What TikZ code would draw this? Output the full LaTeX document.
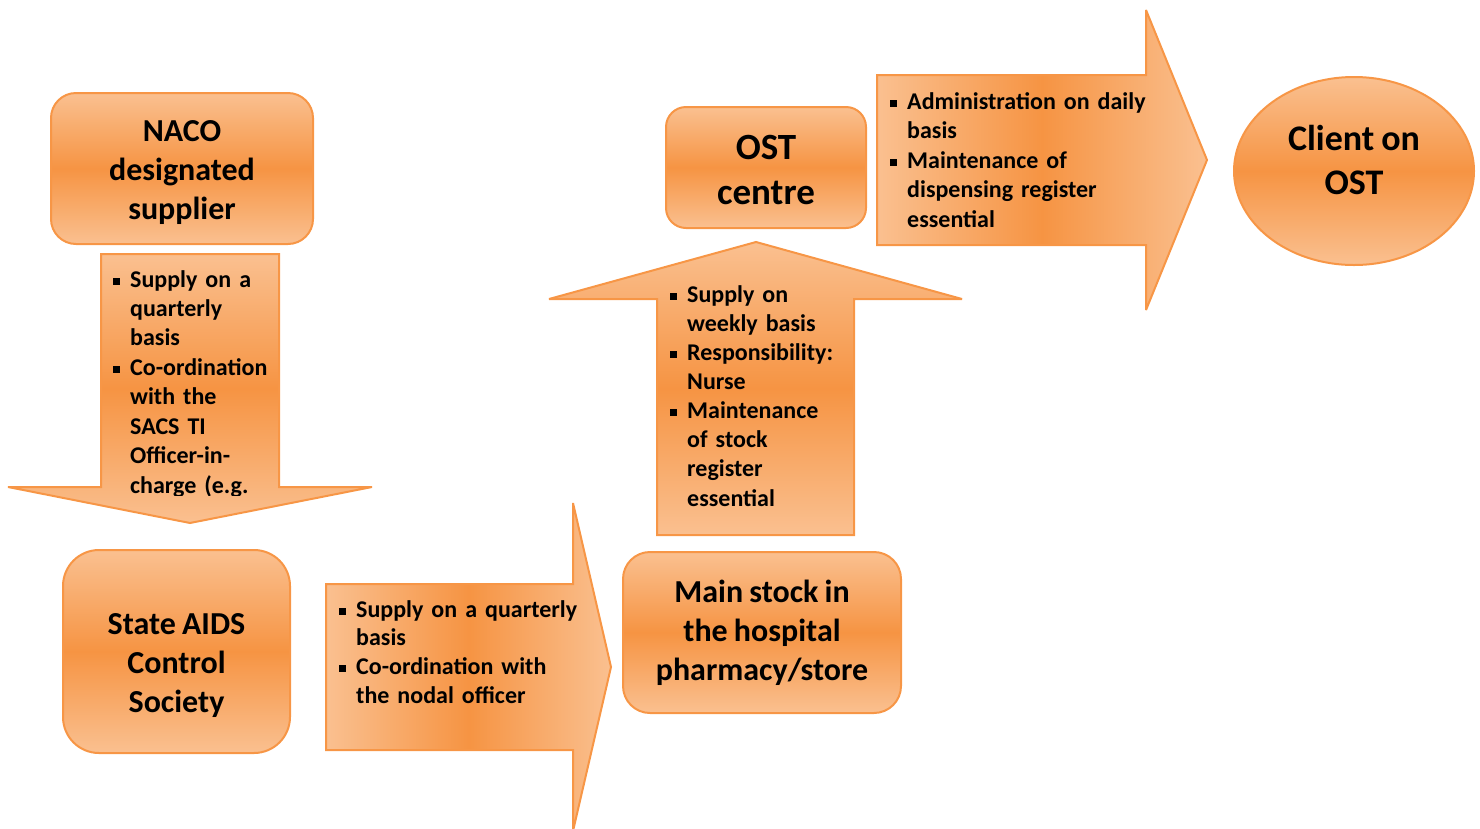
\documentclass[tikz,border=0pt]{standalone}
\usepackage{fontspec}
\setmainfont{Carlito}[WordSpace=0.85]
\usetikzlibrary{shapes.geometric}
\definecolor{lt}{HTML}{FAC090}
\definecolor{dk}{HTML}{F69443}
\definecolor{bd}{HTML}{F79646}
\newcommand\bul{\leavevmode\llap{\rule[2.5pt]{7pt}{7pt}\hspace{10pt}}}
\begin{document}
\begin{tikzpicture}[x=1pt,y=-1pt,
  vshade/.style={draw=bd,line width=2pt,miter limit=3,top color=lt,bottom color=lt,middle color=dk},
  hshade/.style={draw=bd,line width=2pt,miter limit=3,left color=lt,right color=lt,middle color=dk},
  boxtxt/.style={font={\bfseries\fontsize{32}{39}\selectfont},align=center,text=black},
  bigtxt/.style={font={\bfseries\fontsize{37}{45}\selectfont},align=center,text=black},
  bullettxt/.style={font={\bfseries\fontsize{24}{29.3}\selectfont},text width=330pt,align=left,inner sep=0pt,anchor=base west,text=black}]
\useasboundingbox (0,0) rectangle (1480,828);

% rounded boxes
\node[vshade,rounded corners=25pt,minimum width=262pt,minimum height=151pt] (naco) at (182,168.5) {};
\node[boxtxt] (nacotxt) at ([yshift=-4pt]naco.center) {NACO\\designated\\supplier};
\node[vshade,rounded corners=36pt,minimum width=227pt,minimum height=203pt] (sacs) at (176.5,651.5) {};
\node[boxtxt] (sacstxt) at ([yshift=-14.5pt]sacs.center) {State AIDS\\Control\\Society};
\node[vshade,rounded corners=27pt,minimum width=278pt,minimum height=161pt,boxtxt] (main) at (762,632.5) {Main stock in\\the hospital\\pharmacy/store};
\node[vshade,rounded corners=20pt,minimum width=200pt,minimum height=121pt] (ost) at (766,167.5) {};
\node[bigtxt] (osttxt) at ([yshift=-2pt]ost.center) {OST\\centre};
\node[vshade,ellipse,inner sep=0pt,minimum width=240pt,minimum height=188pt] (client) at (1354,171) {};
\node[font={\bfseries\fontsize{36}{44}\selectfont},align=center,text=black] (clienttxt) at ([yshift=11pt]client.center) {Client on\\OST};

% block arrows
\path[vshade] (101,254) -- (279,254) -- (279,487) -- (372,487) -- (190,523) -- (8,487) -- (101,487) -- cycle;
\path[hshade] (326,584) -- (573,584) -- (573,503) -- (611,667) -- (573,831) -- (573,750) -- (326,750) -- cycle;
\path[vshade] (657,535) -- (657,299) -- (549,299) -- (756,242) -- (962,299) -- (854,299) -- (854,535) -- cycle;
\path[hshade] (877,75) -- (1146,75) -- (1146,10) -- (1207,160) -- (1146,310) -- (1146,245) -- (877,245) -- cycle;

% arrow texts
\begin{scope}
\clip (0,0) rectangle (1480,495);
\node[bullettxt,font={\bfseries\fontsize{24}{29.43}\selectfont}] (t1) at (130,287) {\bul Supply on a\\quarterly\\basis\\\bul Co-ordination\\with the\\SACS TI\\Officer-in-\\charge (e.g.};
\end{scope}
\node[bullettxt,font={\bfseries\fontsize{24}{28.7}\selectfont}] (t2) at (356,617) {\bul Supply on a quarterly\\basis\\\bul Co-ordination with\\the nodal officer};
\node[bullettxt,font={\bfseries\fontsize{24}{29.15}\selectfont}] (t3) at (687,302) {\bul Supply on\\weekly basis\\\bul Responsibility:\\Nurse\\\bul Maintenance\\of stock\\register\\essential};
\node[bullettxt,font={\bfseries\fontsize{24}{29.5}\selectfont}] (t4) at (907,109) {\bul Administration on daily\\basis\\\bul Maintenance of\\dispensing register\\essential};
\end{tikzpicture}
\end{document}
